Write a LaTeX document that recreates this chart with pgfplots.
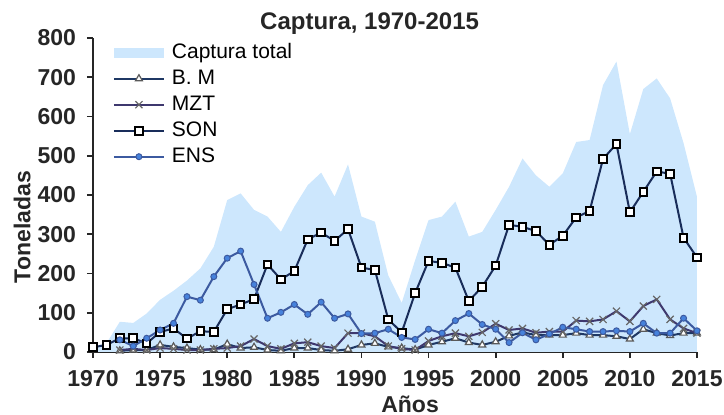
\documentclass[border=0pt]{standalone}
\usepackage{fontspec}
\setmainfont{Liberation Sans}
\usepackage{pgfplots}
\pgfplotsset{compat=1.18}
\definecolor{areablue}{RGB}{205,231,253}
\definecolor{bmcol}{RGB}{31,56,100}
\definecolor{mztcol}{RGB}{62,56,110}
\definecolor{soncol}{RGB}{25,45,90}
\definecolor{enscol}{RGB}{60,90,160}
\definecolor{ensfill}{RGB}{70,130,220}
\begin{document}
\begin{tikzpicture}
\begin{axis}[
  scale only axis,
  width=302pt, height=157pt,
  xmin=1970, xmax=2015, ymin=0, ymax=800,
  xtick={1970,1975,...,2015},
  ytick={0,100,...,800},
  axis lines*=left,
  axis line style={line width=0.9pt, black!85},
  tick style={line width=0.9pt, black!85},
  tick align=outside,
  major tick length=3pt,
  /pgf/number format/1000 sep={},
  /pgf/number format/assume math mode=true,
  ticklabel style={font=\bfseries\fontsize{11.5}{13}\selectfont, text=black!85},
  xticklabel style={yshift=-2.5pt},
  yticklabel style={xshift=-2pt},
  clip=false,
  legend style={draw=none, fill=none, at={(axis description cs:0.033,0.985)}, anchor=north west,
    inner sep=0pt, outer sep=0pt, row sep=3pt,
    font=\fontsize{10.5}{12}\selectfont,
    nodes={inner sep=0pt, text height=8pt, text depth=2pt},
    /tikz/every odd column/.append style={column sep=3.5pt}},
  legend cell align=left,
  legend image code/.code={\draw[mark repeat=2,mark phase=2,#1] plot coordinates {(0pt,0pt) (12.5pt,0pt) (25pt,0pt)};},
]
\addplot[fill=areablue, draw=none, legend image code/.code={\fill[areablue] (0pt,-2.5pt) rectangle (25pt,2.5pt);}] coordinates {
(1970,14) (1971,22) (1972,77) (1973,74) (1974,98) (1975,133) (1976,156) (1977,182) (1978,213) (1979,268)
(1980,387) (1981,404) (1982,362) (1983,345) (1984,306) (1985,370) (1986,425) (1987,457) (1988,396) (1989,478)
(1990,345) (1991,332) (1992,195) (1993,125) (1994,234) (1995,336) (1996,345) (1997,383) (1998,294) (1999,306)
(2000,362) (2001,421) (2002,493) (2003,450) (2004,421) (2005,455) (2006,535) (2007,540) (2008,680) (2009,740)
(2010,555) (2011,670) (2012,697) (2013,646) (2014,532) (2015,395)} \closedcycle;
\addlegendentry{Captura total}
\addplot[color=bmcol, line width=1pt, mark=triangle*, mark size=2pt, mark options={fill=white, draw=gray!70!black, line width=0.6pt}] coordinates {
(1972,3) (1973,5) (1974,5) (1975,18) (1976,13) (1977,10) (1978,6) (1979,6)
(1980,20) (1981,10) (1982,12) (1983,5) (1984,3) (1985,10) (1986,10) (1987,5) (1988,3) (1989,7)
(1990,18) (1991,22) (1992,13) (1993,10) (1994,6) (1995,18) (1996,26) (1997,35) (1998,24) (1999,18)
(2000,26) (2001,41) (2002,50) (2003,43) (2004,43) (2005,43) (2006,48) (2007,43) (2008,43) (2009,40)
(2010,33) (2011,58) (2012,48) (2013,42) (2014,48) (2015,48)};
\addlegendentry{B. M}
\addplot[color=mztcol, line width=1pt, mark=x, mark size=2.5pt, mark options={draw=gray!80!black, line width=0.6pt}] coordinates {
(1972,5) (1973,8) (1974,5) (1975,10) (1976,8) (1977,5) (1978,5) (1979,8)
(1980,10) (1981,15) (1982,33) (1983,15) (1984,8) (1985,22) (1986,25) (1987,15) (1988,10) (1989,48)
(1990,48) (1991,40) (1992,15) (1993,8) (1994,5) (1995,28) (1996,40) (1997,48) (1998,40) (1999,50)
(2000,72) (2001,56) (2002,60) (2003,49) (2004,52) (2005,52) (2006,80) (2007,78) (2008,83) (2009,104)
(2010,78) (2011,117) (2012,134) (2013,83) (2014,60) (2015,48)};
\addlegendentry{MZT}
\addplot[color=soncol, line width=1pt, mark=square*, mark size=1.9pt, mark options={fill=white, draw=black, line width=1pt}] coordinates {
(1970,12) (1971,18) (1972,35) (1973,35) (1974,22) (1975,51) (1976,60) (1977,34) (1978,53) (1979,51)
(1980,109) (1981,121) (1982,135) (1983,223) (1984,185) (1985,206) (1986,287) (1987,304) (1988,283) (1989,313)
(1990,215) (1991,209) (1992,83) (1993,50) (1994,150) (1995,232) (1996,227) (1997,215) (1998,130) (1999,166)
(2000,220) (2001,324) (2002,319) (2003,308) (2004,273) (2005,296) (2006,343) (2007,359) (2008,492) (2009,530)
(2010,356) (2011,408) (2012,460) (2013,454) (2014,291) (2015,241)};
\addlegendentry{SON}
\addplot[color=enscol, line width=1pt, mark=*, mark size=1.5pt, mark options={fill=ensfill, draw=enscol, line width=0.5pt}] coordinates {
(1972,31) (1973,15) (1974,35) (1975,56) (1976,73) (1977,141) (1978,132) (1979,192)
(1980,239) (1981,257) (1982,172) (1983,86) (1984,101) (1985,121) (1986,96) (1987,127) (1988,86) (1989,97)
(1990,47) (1991,48) (1992,58) (1993,37) (1994,32) (1995,58) (1996,48) (1997,80) (1998,98) (1999,70)
(2000,58) (2001,24) (2002,49) (2003,31) (2004,46) (2005,63) (2006,58) (2007,52) (2008,52) (2009,54)
(2010,52) (2011,73) (2012,48) (2013,48) (2014,86) (2015,54)};
\addlegendentry{ENS}
\node[anchor=base, font=\bfseries\fontsize{12}{14}\selectfont, text=black!85] at (axis description cs:0.458,1) [yshift=4pt] {Captura, 1970-2015};
\node[anchor=center, rotate=90, font=\bfseries\fontsize{11.5}{13}\selectfont, text=black!85] at (axis description cs:-0.1175,0.398) {Toneladas};
\node[anchor=base, font=\bfseries\fontsize{11.5}{13}\selectfont, text=black!85] at (axis description cs:0.525,-0.194) {Años};
\end{axis}
\pgfresetboundingbox
\path[use as bounding box] (-46.5pt,-31.5pt) rectangle (315.5pt,176pt);
\end{tikzpicture}
\end{document}
